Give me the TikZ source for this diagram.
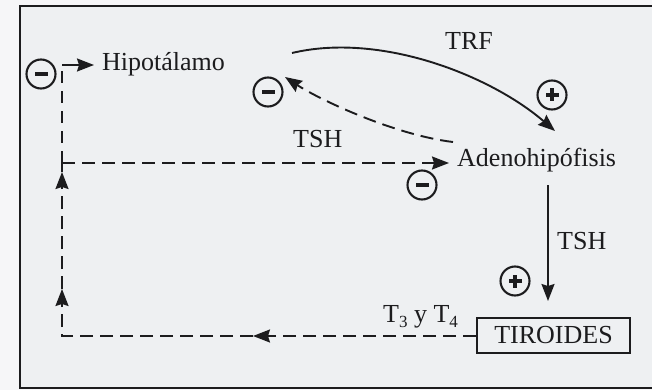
\documentclass[tikz,border=0pt]{standalone}
\usepackage{fontspec}
\setmainfont{Liberation Serif}
\usetikzlibrary{arrows.meta}
\definecolor{paper}{HTML}{EEF0F2}
\definecolor{margin}{HTML}{F6F6F8}
\definecolor{ink}{HTML}{1C1C1E}
\tikzset{
  lbl/.style={inner sep=0pt, text=ink, font=\fontsize{26}{30}\selectfont},
  tip/.style={-{Stealth[length=17pt,width=13pt,inset=2pt]}},
  link/.style={draw=ink, line width=1.9pt},
  dline/.style={link, dash pattern=on 13pt off 7pt},
  sign/.style={circle, draw=ink, line width=2.1pt, minimum size=29pt, inner sep=0pt},
  minus/.style={sign, path picture={
      \fill[ink] ([xshift=-6.5pt,yshift=-2.3pt]path picture bounding box.center)
        rectangle ([xshift=6.5pt,yshift=2.3pt]path picture bounding box.center);}},
  plus/.style={sign, path picture={
      \fill[ink] ([xshift=-6.5pt,yshift=-2.3pt]path picture bounding box.center)
        rectangle ([xshift=6.5pt,yshift=2.3pt]path picture bounding box.center);
      \fill[ink] ([xshift=-2.3pt,yshift=-6.5pt]path picture bounding box.center)
        rectangle ([xshift=2.3pt,yshift=6.5pt]path picture bounding box.center);}},
}
\begin{document}
\begin{tikzpicture}[x=1pt, y=-1pt]
  % page and frame
  \fill[margin] (0,0) rectangle (652,390);
  \useasboundingbox (0,0) rectangle (652,390);
  \fill[paper] (20,6) rectangle (660,388);
  \draw[ink, line width=2.2pt] (660,6) -- (20,6) -- (20,388) -- (660,388);

  % organs and hormone labels
  \node[lbl, anchor=base west] (hipo) at (102,71) {Hipotálamo};
  \node[lbl, anchor=base west] (adeno) at (457,167) {Adenohipófisis};
  \node[lbl, anchor=base west] (trf) at (445,50) {TRF};
  \node[lbl, anchor=base west] (tshup) at (293,148) {TSH};
  \node[lbl, anchor=base west] (tshdn) at (557,249) {TSH};
  \node[lbl, anchor=base west] (t34) at (383,322)
    {T\raisebox{-0.22em}{\fontsize{17}{17}\selectfont 3} y T\raisebox{-0.22em}{\fontsize{17}{17}\selectfont 4}};
  \node[lbl, draw=ink, line width=2pt, minimum width=153pt, minimum height=35pt]
    (tiro) at (553.5,335.5) {TIROIDES};

  % regulation signs
  \node[minus] (s1) at (41,74) {};
  \node[minus] (s2) at (268,92) {};
  \node[plus]  (s3) at (552,95) {};
  \node[minus] (s4) at (422,185) {};
  \node[plus]  (s5) at (515,281) {};

  % connector end points
  \coordinate (trfA) at (292,53);
  \coordinate (trfB) at (555,131);
  \coordinate (fbA) at (453,142);
  \coordinate (fbB) at (285,77);
  \coordinate (tshA) at (548,185);
  \coordinate (tshB) at (548,301);
  \coordinate (botMid) at (253,336);
  \coordinate (botL) at (62,336);
  \coordinate (upLow) at (62,289);
  \coordinate (upHigh) at (62,172);
  \coordinate (junc) at (62,163);
  \coordinate (topL) at (62,65);
  \coordinate (hipoIn) at (94,65);
  \coordinate (adenoIn) at (449,163);

  % TRF: hypothalamus stimulates the adenohypophysis
  \draw[link, tip] (trfA) .. controls (380,32) and (490,75) .. (trfB);
  % short loop: TSH inhibits TRF release
  \draw[dline, tip] (fbA) .. controls (395,135) and (320,100) .. (fbB);
  % TSH stimulates the thyroid
  \draw[link, tip] (tshA) -- (tshB);

  % long loop: T3 and T4 feed back
  \draw[dline, tip] (tiro.west |- botMid) -- (botMid);
  \draw[dline, tip] (botMid) -- (botL) -- (upLow);
  \draw[dline, tip] (upLow) -- (upHigh);
  \draw[dline] (upHigh) -- (junc);
  \draw[dline, tip] (junc) -- (adenoIn);
  \draw[link, dash pattern=on 12pt off 8pt] (junc) -- (topL);
  \draw[link, tip] (topL) -- (hipoIn);
\end{tikzpicture}
\end{document}
